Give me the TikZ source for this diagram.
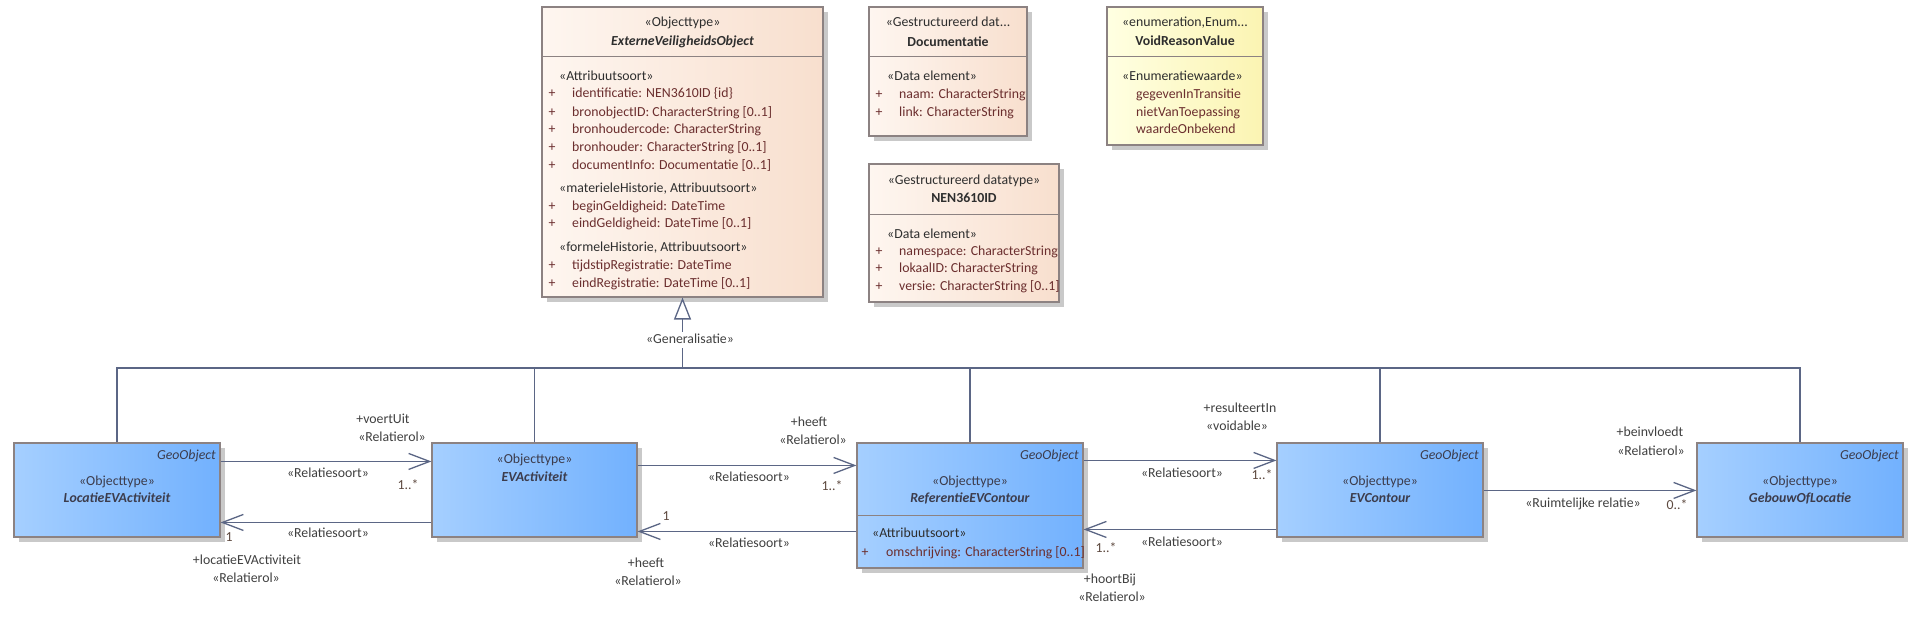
\documentclass[tikz,border=0pt]{standalone}
\usepackage{fontspec}
\setmainfont{Carlito}
\usetikzlibrary{arrows.meta,shadows}
\definecolor{linec}{HTML}{5B6685}
\definecolor{boxb}{HTML}{8C8282}
\definecolor{peachL}{HTML}{FEF6F0}
\definecolor{peachR}{HTML}{F8DFCE}
\definecolor{blueL}{HTML}{A5CFFF}
\definecolor{blueR}{HTML}{72B1FE}
\definecolor{yelL}{HTML}{FFFFE2}
\definecolor{yelR}{HTML}{FBF4B2}
\definecolor{shad}{HTML}{C9C9C9}
\definecolor{attrc}{HTML}{6B2E2E}
\definecolor{stc}{HTML}{2E2E2E}
\definecolor{bluet}{HTML}{3C3C4C}
\definecolor{lblc}{HTML}{404040}
\definecolor{mulc}{HTML}{5E4A40}
\newcommand{\fsz}{\fontsize{13.8}{16}\selectfont}
\tikzset{
  classbox/.style={draw=boxb, line width=1.1pt, inner sep=0pt,
    general shadow={fill=shad, shadow xshift=5pt, shadow yshift=-5pt}},
  peachbox/.style={classbox, left color=peachL, right color=peachR},
  yelbox/.style={classbox, left color=yelL, right color=yelR},
  bluebox/.style={classbox, left color=blueL, right color=blueR},
  divline/.style={draw=boxb, line width=1.1pt},
  txt/.style={inner sep=0pt, text height=10pt, text depth=2.5pt, font=\fsz},
  hd/.style={txt, text=stc},
  nmit/.style={txt, text=stc, font=\fsz\bfseries\itshape},
  nmbf/.style={txt, text=stc, font=\fsz\bfseries},
  st/.style={txt, text=stc, anchor=west},
  plus/.style={txt, text=attrc},
  attr/.style={txt, text=attrc, anchor=west},
  bhd/.style={txt, text=bluet},
  bnm/.style={txt, text=bluet, font=\fsz\bfseries\itshape},
  geo/.style={txt, text=bluet, font=\fsz\itshape, anchor=east},
  lbl/.style={txt, text=lblc},
  mul/.style={txt, text=mulc},
  conn/.style={draw=linec, line width=1.3pt},
  navi/.style={conn, -{Straight Barb[length=21pt,width=16pt]}},
  gen/.style={conn, -{Triangle[open,length=22pt,width=17pt,fill=white]}}
}
\begin{document}
\begin{tikzpicture}[x=1pt,y=-1pt]
\useasboundingbox (0,0) rectangle (1921,617);
\fill[white] (0,0) rectangle (1921,617);

% ---------- class boxes ----------
\node[peachbox, minimum width=281pt, minimum height=290pt] (evo) at (682.5,152) {};
\node[peachbox, minimum width=158pt, minimum height=129pt] (doc) at (948,71.5) {};
\node[peachbox, minimum width=190pt, minimum height=138pt] (nen) at (964,233) {};
\node[yelbox, minimum width=156pt, minimum height=138pt] (void) at (1185,76) {};
\node[bluebox, minimum width=206pt, minimum height=94pt] (loc) at (117,490) {};
\node[bluebox, minimum width=205pt, minimum height=94pt] (evact) at (534.5,490) {};
\node[bluebox, minimum width=226pt, minimum height=125pt] (ref) at (970,505.5) {};
\node[bluebox, minimum width=206pt, minimum height=94pt] (evc) at (1380,490) {};
\node[bluebox, minimum width=206pt, minimum height=94pt] (geb) at (1800,490) {};

% dividers
\draw[divline] ([yshift=-50pt]evo.north west) -- ([yshift=-50pt]evo.north east);
\draw[divline] ([yshift=-50pt]doc.north west) -- ([yshift=-50pt]doc.north east);
\draw[divline] ([yshift=-51pt]nen.north west) -- ([yshift=-51pt]nen.north east);
\draw[divline] ([yshift=-50pt]void.north west) -- ([yshift=-50pt]void.north east);
\draw[divline] ([yshift=-73pt]ref.north west) -- ([yshift=-73pt]ref.north east);

% ---------- ExterneVeiligheidsObject ----------
\node[hd] (evoS) at (682.5,23) {«Objecttype»};
\node[nmit] (evoN) at (682.5,42) {ExterneVeiligheidsObject};
\node[st] (evoA1) at (559,77) {«Attribuutsoort»};
\node[st] (evoA2) at (559,189) {«materieleHistorie, Attribuutsoort»};
\node[st] (evoA3) at (559,248) {«formeleHistorie, Attribuutsoort»};
\foreach \yy/\mytext in {94/{identificatie: NEN3610ID \{id\}},
  113/{bronobjectID: CharacterString [0..1]},
  130/{bronhoudercode: CharacterString},
  148/{bronhouder: CharacterString [0..1]},
  166/{documentInfo: Documentatie [0..1]},
  207/{beginGeldigheid: DateTime},
  224/{eindGeldigheid: DateTime [0..1]},
  266/{tijdstipRegistratie: DateTime},
  284/{eindRegistratie: DateTime [0..1]}}{
  \node[plus] (evoP\yy) at (552,\yy) {+};
  \node[attr] (evoL\yy) at (572,\yy) {\mytext};
}

% ---------- Documentatie ----------
\node[hd] (docS) at (948,23) {«Gestructureerd dat...};
\node[nmbf] (docN) at (948,43) {Documentatie};
\node[st] (docA) at (887,77) {«Data element»};
\foreach \yy/\mytext in {95/{naam: CharacterString}, 113/{link: CharacterString}}{
  \node[plus] (docP\yy) at (879,\yy) {+};
  \node[attr] (docL\yy) at (899,\yy) {\mytext};
}

% ---------- NEN3610ID ----------
\node[hd] (nenS) at (964,181) {«Gestructureerd datatype»};
\node[nmbf] (nenN) at (964,199) {NEN3610ID};
\node[st] (nenA) at (887,235) {«Data element»};
\foreach \yy/\mytext in {252/{namespace: CharacterString}, 269/{lokaalID: CharacterString}, 287/{versie: CharacterString [0..1]}}{
  \node[plus] (nenP\yy) at (879,\yy) {+};
  \node[attr] (nenL\yy) at (899,\yy) {\mytext};
}

% ---------- VoidReasonValue ----------
\node[hd] (voidS) at (1185,23) {«enumeration,Enum...};
\node[nmbf] (voidN) at (1185,42) {VoidReasonValue};
\node[st] (voidA) at (1122,77) {«Enumeratiewaarde»};
\node[attr] (voidL1) at (1136,95) {gegevenInTransitie};
\node[attr] (voidL2) at (1136,113) {nietVanToepassing};
\node[attr] (voidL3) at (1136,130) {waardeOnbekend};

% ---------- blue boxes ----------
\node[geo] (locG) at (216,456) {GeoObject};
\node[bhd] (locS) at (117,482) {«Objecttype»};
\node[bnm] (locN) at (117,499) {LocatieEVActiviteit};

\node[bhd] (evactS) at (534.5,460) {«Objecttype»};
\node[bnm] (evactN) at (534.5,478) {EVActiviteit};

\node[geo] (refG) at (1079,456) {GeoObject};
\node[bhd] (refS) at (970,482) {«Objecttype»};
\node[bnm] (refN) at (970,499) {ReferentieEVContour};
\node[st] (refA) at (872,534) {«Attribuutsoort»};
\node[plus] (refP) at (865,553) {+};
\node[attr] (refL) at (886,553) {omschrijving: CharacterString [0..1]};

\node[geo] (evcG) at (1479,456) {GeoObject};
\node[bhd] (evcS) at (1380,482) {«Objecttype»};
\node[bnm] (evcN) at (1380,499) {EVContour};

\node[geo] (gebG) at (1899,456) {GeoObject};
\node[bhd] (gebS) at (1800,482) {«Objecttype»};
\node[bnm] (gebN) at (1800,499) {GebouwOfLocatie};

% ---------- generalisation tree ----------
\coordinate (gbar) at (682.5,368);
\draw[conn] (loc.north) |- (gbar);
\draw[conn] (geb.north) |- (gbar);
\draw[conn] (evact.north) -- (evact.north |- gbar);
\draw[conn] (ref.north) -- (ref.north |- gbar);
\draw[conn] (evc.north) -- (evc.north |- gbar);
\draw[gen] (gbar) -- (evo.south);
\node[lbl, fill=white, inner ysep=2pt] (genL) at (690,340) {«Generalisatie»};

% ---------- associations ----------
\draw[navi] ([yshift=-19pt]loc.north east) -- ([yshift=-19pt]evact.north west);
\draw[navi] ([yshift=-80pt]evact.north west) -- ([yshift=-80pt]loc.north east);
\draw[navi] ([yshift=-23pt]evact.north east) -- ([yshift=-23pt]ref.north west);
\draw[navi] ([yshift=-89pt]ref.north west) -- ([yshift=-89pt]evact.north east);
\draw[navi] ([yshift=-18pt]ref.north east) -- ([yshift=-18pt]evc.north west);
\draw[navi] ([yshift=-87pt]evc.north west) -- ([yshift=-87pt]ref.north east);
\draw[navi] ([yshift=-48pt]evc.north east) -- ([yshift=-48pt]geb.north west);

% labels
\node[lbl] (a1r) at (383,420) {+voertUit};
\node[lbl] (a1s) at (392,438) {«Relatierol»};
\node[lbl] (a1t) at (328,474) {«Relatiesoort»};
\node[mul] (a1m) at (408,486) {1..*};

\node[lbl] (a2t) at (328,534) {«Relatiesoort»};
\node[mul] (a2m) at (229,538) {1};
\node[lbl] (a2r) at (247,561) {+locatieEVActiviteit};
\node[lbl] (a2s) at (246,579) {«Relatierol»};

\node[lbl] (a3r) at (809,423) {+heeft};
\node[lbl] (a3s) at (813,441) {«Relatierol»};
\node[lbl] (a3t) at (749,478) {«Relatiesoort»};
\node[mul] (a3m) at (832,487) {1..*};

\node[mul] (a4m) at (666,517) {1};
\node[lbl] (a4t) at (749,544) {«Relatiesoort»};
\node[lbl] (a4r) at (646,564) {+heeft};
\node[lbl] (a4s) at (648,582) {«Relatierol»};

\node[lbl] (a5r) at (1240,409) {+resulteertIn};
\node[lbl] (a5s) at (1237,427) {«voidable»};
\node[lbl] (a5t) at (1182,474) {«Relatiesoort»};
\node[mul] (a5m) at (1262,476) {1..*};

\node[mul] (a6m) at (1106,549) {1..*};
\node[lbl] (a6t) at (1182,543) {«Relatiesoort»};
\node[lbl] (a6r) at (1110,580) {+hoortBij};
\node[lbl] (a6s) at (1112,598) {«Relatierol»};

\node[lbl] (a7t) at (1583,504) {«Ruimtelijke relatie»};
\node[mul] (a7m) at (1677,506) {0..*};
\node[lbl] (a7r) at (1650,433) {+beinvloedt};
\node[lbl] (a7s) at (1651,452) {«Relatierol»};
\end{tikzpicture}
\end{document}
